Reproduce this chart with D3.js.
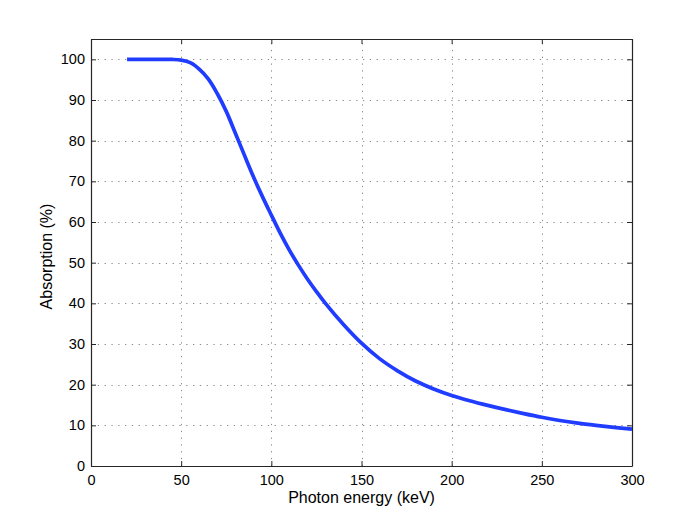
<!DOCTYPE html>
<html>
<head>
<meta charset="utf-8">
<script src="https://cdn.jsdelivr.net/npm/d3@7"></script>
<style>
  html, body { margin: 0; padding: 0; background: #fff; }
  svg { display: block; font-family: "Liberation Sans", Arial, Helvetica, sans-serif; }
</style>
</head>
<body>
<svg id="chart" width="698" height="525"></svg>
<script>
// Data
const energy = [20, 30, 40, 45, 50, 55, 60, 65, 70, 75, 80, 85, 90, 95, 100, 105, 110, 115, 120, 125, 130, 140, 150, 160, 170, 180, 190, 200, 210, 220, 230, 240, 250, 260, 270, 280, 290, 300];
const absorption = [100, 100, 100, 99.97, 99.8, 99.2, 97.6, 95.2, 91.6, 87.2, 81.9, 76.5, 71.2, 66.3, 61.7, 57.2, 53.1, 49.4, 46.0, 42.9, 40.0, 34.8, 30.2, 26.4, 23.4, 20.9, 18.95, 17.35, 16.05, 14.9, 13.85, 12.88, 11.98, 11.2, 10.55, 10.0, 9.5, 9.05];
const xTicks = [0, 50, 100, 150, 200, 250, 300];
const yTicks = [0, 10, 20, 30, 40, 50, 60, 70, 80, 90, 100];
const xLabel = "Photon energy (keV)";
const yLabel = "Absorption (%)";

const svg = d3.select("#chart");
const L = 91, R = 632, T = 39, B = 466;
const x = d3.scaleLinear().domain([0, 300]).range([L, R]);
const y = d3.scaleLinear().domain([0, 105]).range([B, T]);

// grid
const grid = svg.append("g").attr("stroke", "#8c8c8c").attr("stroke-width", 1).attr("stroke-dasharray", "1.3,5.5");
grid.selectAll(".gx").data(xTicks.filter(d => d > 0 && d < 300)).enter().append("line")
  .attr("x1", d => Math.round(x(d)) + 0.5).attr("x2", d => Math.round(x(d)) + 0.5)
  .attr("y1", B).attr("y2", T);
grid.selectAll(".gy").data(yTicks.filter(d => d > 0)).enter().append("line")
  .attr("y1", d => Math.round(y(d)) + 0.5).attr("y2", d => Math.round(y(d)) + 0.5)
  .attr("x1", L).attr("x2", R);

// axes (ticks inward)
const axB = svg.append("g").attr("transform", `translate(0,${B})`)
  .call(d3.axisBottom(x).tickValues(xTicks).tickSizeInner(-5).tickSizeOuter(0).tickPadding(9));
const axT = svg.append("g").attr("transform", `translate(0,${T})`)
  .call(d3.axisTop(x).tickValues(xTicks).tickSizeInner(-5).tickSizeOuter(0).tickFormat(""));
const axL = svg.append("g").attr("transform", `translate(${L},0)`)
  .call(d3.axisLeft(y).tickValues(yTicks).tickSizeInner(-5).tickSizeOuter(0).tickPadding(6));
const axR = svg.append("g").attr("transform", `translate(${R},0)`)
  .call(d3.axisRight(y).tickValues(yTicks).tickSizeInner(-5).tickSizeOuter(0).tickFormat(""));
[axB, axT, axL, axR].forEach(a => {
  a.selectAll("path").attr("stroke", "#262626").attr("stroke-width", 1.2);
  a.selectAll("line").attr("stroke", "#262626");
  a.selectAll("text").attr("fill", "#000").style("font-size", "14.5px")
    .style("font-family", "'Liberation Sans', Arial, sans-serif");
});

// curve
const line = d3.line().x((d, i) => x(energy[i])).y(d => y(d)).curve(d3.curveCatmullRom.alpha(0.5));
svg.append("path").datum(absorption).attr("d", line)
  .attr("fill", "none").attr("stroke", "#1f3cff").attr("stroke-width", 3.7)
  .attr("stroke-linejoin", "round");

// labels
svg.append("text").attr("x", (L + R) / 2).attr("y", 503).attr("text-anchor", "middle")
  .style("font-size", "16px").text(xLabel);
svg.append("text").attr("transform", `translate(51.5,256.5) rotate(-90)`)
  .attr("text-anchor", "middle").style("font-size", "16px").text(yLabel);
</script>
</body>
</html>
